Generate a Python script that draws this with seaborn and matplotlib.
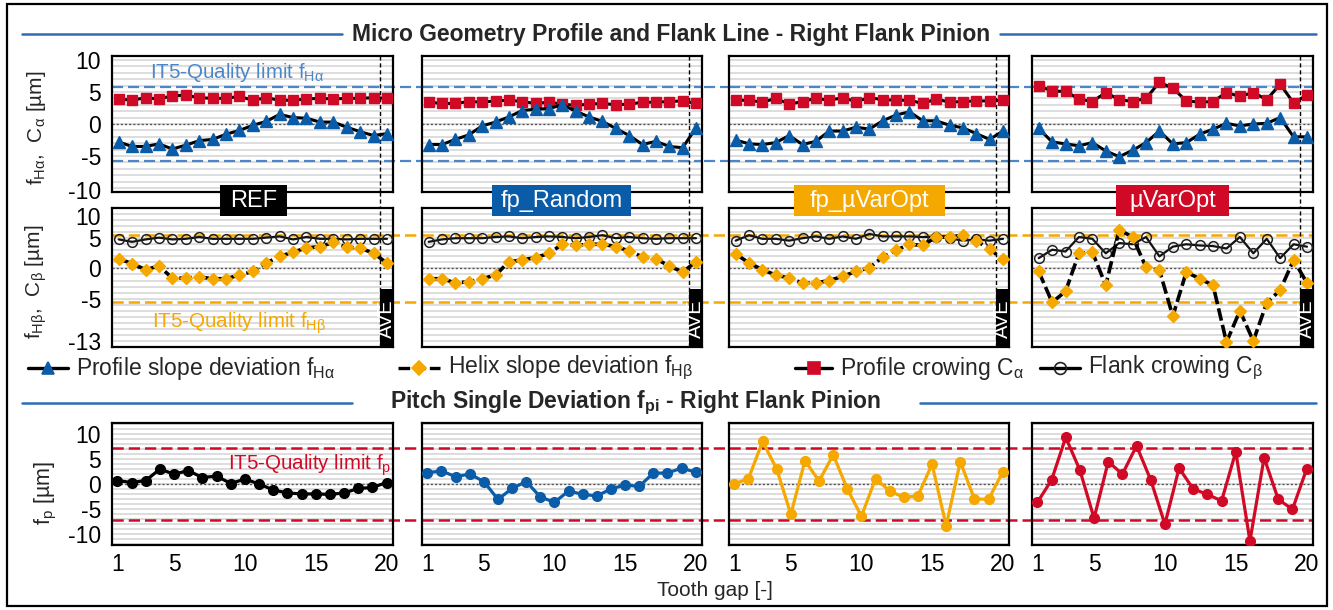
import numpy as np
import matplotlib
matplotlib.use("Agg")
import matplotlib.pyplot as plt
import seaborn as sns
from matplotlib.lines import Line2D
from matplotlib.patches import Rectangle
from matplotlib.transforms import blended_transform_factory, ScaledTranslation

sns.set_theme(style="white")
plt.rcParams["font.family"] = ["Liberation Sans", "DejaVu Sans"]
plt.rcParams["mathtext.fontset"] = "custom"
plt.rcParams["mathtext.rm"] = "Liberation Sans"
plt.rcParams["mathtext.it"] = "Liberation Sans:italic"
plt.rcParams["mathtext.bf"] = "Liberation Sans:bold"

# ---------------- data ----------------
variants = ["REF", "fp_Random", "fp_µVarOpt", "µVarOpt"]
teeth_ave = list(range(1, 22))      # teeth 1..20, position 21 = average (AVE)
teeth = list(range(1, 21))

# profile slope deviation fHα [µm]
fHa_ref = [-2.8, -3.5, -3.5, -3.1, -3.9, -3.3, -2.6, -2.4, -1.6, -1.0, -0.2, 0.4, 1.5, 1.0, 0.9, 0.3, 0.3, -0.5, -1.2, -1.8, -1.5]
fHa_random = [-3.2, -3.2, -2.4, -1.7, -0.3, 0.3, 1.1, 2.1, 2.3, 2.4, 3.0, 2.0, 1.1, 0.4, -0.7, -1.8, -3.2, -2.7, -3.5, -3.7, -0.6]
fHa_fpopt = [-2.5, -3.1, -3.2, -2.9, -1.8, -3.2, -2.7, -1.1, -1.1, -0.5, -0.8, 0.5, 1.4, 1.9, 0.5, 0.5, -0.2, -0.6, -1.5, -2.4, -1.1]
fHa_opt = [-0.7, -2.8, -3.1, -3.4, -2.9, -4.2, -5.1, -4.1, -2.9, -1.1, -3.1, -2.9, -1.6, -0.8, 0.1, -0.3, 0.0, 0.1, 1.0, -2.0, -2.0]

# profile crowning Cα [µm]
Ca_ref = [3.9, 3.7, 4.1, 3.9, 4.4, 4.5, 4.1, 4.0, 4.0, 4.3, 3.7, 4.1, 3.7, 3.7, 3.9, 4.0, 3.9, 4.0, 4.0, 4.1, 4.0]
Ca_random = [3.4, 3.2, 3.2, 3.5, 3.4, 3.6, 3.7, 3.5, 3.2, 3.4, 3.1, 2.9, 3.1, 3.2, 3.0, 3.1, 3.4, 3.4, 3.5, 3.6, 3.2]
Ca_fpopt = [3.7, 3.7, 3.4, 4.0, 3.1, 3.5, 4.0, 3.7, 4.1, 3.5, 4.1, 3.8, 3.7, 3.7, 3.2, 3.9, 3.4, 3.5, 3.6, 3.6, 3.7]
Ca_opt = [6.0, 5.1, 5.1, 3.9, 3.5, 4.9, 3.8, 3.5, 4.0, 6.5, 5.6, 3.6, 3.4, 3.5, 4.9, 4.3, 4.9, 3.8, 6.2, 3.3, 4.5]

# helix slope deviation fHβ [µm]
fHb_ref = [1.6, 0.8, -0.2, 0.4, -1.6, -1.6, -1.4, -1.7, -1.7, -1.1, -0.5, 0.9, 2.0, 2.7, 3.4, 3.6, 4.3, 3.5, 3.4, 2.5, 0.9]
fHb_random = [-1.7, -1.7, -2.4, -2.2, -1.7, -1.1, 1.1, 1.4, 1.8, 2.5, 4.0, 3.8, 4.0, 4.0, 3.6, 2.9, 1.9, 1.6, 0.4, -0.6, 1.1]
fHb_fpopt = [2.4, 0.9, -0.2, -1.1, -1.6, -2.4, -2.4, -2.0, -1.3, -0.5, 0.1, 1.9, 3.0, 4.0, 3.8, 5.2, 5.2, 5.5, 4.6, 3.2, 1.5]
fHb_opt = [-0.5, -5.6, -3.8, 2.5, 2.7, -2.8, 6.4, 5.2, 0.2, -0.3, -7.9, -0.6, -1.7, -2.8, -12.2, -7.0, -12.0, -5.7, -3.6, 1.4, -2.4]

# flank crowning Cβ [µm]
Cb_ref = [4.8, 4.4, 4.8, 5.1, 4.8, 4.9, 5.2, 4.9, 4.9, 4.9, 4.9, 5.1, 5.3, 4.8, 5.2, 4.9, 4.9, 4.8, 4.9, 4.9, 4.9]
Cb_random = [4.4, 4.8, 5.0, 5.0, 5.0, 5.2, 5.3, 5.0, 5.2, 5.3, 5.2, 5.0, 5.2, 5.5, 5.0, 5.2, 5.0, 4.9, 5.0, 5.0, 5.0]
Cb_fpopt = [4.6, 5.5, 4.9, 4.9, 4.6, 5.0, 5.3, 4.9, 5.3, 4.9, 5.7, 5.3, 5.3, 5.3, 5.2, 5.2, 5.0, 4.6, 4.8, 4.6, 4.9]
Cb_opt = [1.7, 3.1, 2.8, 5.2, 4.9, 2.5, 4.2, 4.0, 5.2, 2.0, 3.6, 4.0, 3.8, 3.7, 3.3, 5.2, 2.5, 4.9, 1.7, 4.0, 3.6]

# single pitch deviation fp [µm]
fp_ref = [0.7, 0.3, 0.7, 3.0, 2.0, 2.7, 1.3, 1.6, 0.1, 1.0, 0.0, -1.2, -1.8, -2.0, -2.0, -2.1, -1.8, -0.9, -0.7, 0.3]
fp_random = [2.3, 2.6, 1.5, 2.0, 0.5, -3.1, -0.9, 0.5, -2.6, -3.7, -1.4, -2.1, -2.4, -1.0, -0.2, -0.5, 2.2, 2.2, 3.2, 2.4]
fp_fpopt = [0.0, 1.1, 8.6, 3.0, -6.1, 4.7, 0.6, 5.9, -1.0, -6.5, 1.1, -1.4, -2.7, -2.4, 4.0, -8.4, 4.5, -3.0, -3.1, 2.4]
fp_opt = [-3.7, 0.8, 9.4, 2.8, -6.9, 4.5, 2.0, 7.7, 0.8, -8.1, 3.2, -1.0, -2.1, -3.4, 6.5, -11.5, 5.3, -3.1, -5.1, 3.0]

# IT5 quality limits [µm]
limit_fHa = 5.8
limit_fHb = 5.5
limit_fp = 7.3

# ---------------- style ----------------
BLUE = "#0B5CA8"
LBLUE = "#4A86C8"
RED = "#D00A26"
ORANGE = "#F5A800"
BLACK = "#000000"
variant_colors = [BLACK, BLUE, ORANGE, RED]
TICK_FS = 16.5

W, H = 1333, 610
fig = plt.figure(figsize=(W / 100, H / 100), dpi=100)


def fx(px):
    return px / W


def fy(py):
    return 1 - py / H


cols = [(112, 393), (422, 702), (729, 1009), (1032, 1313)]
rows = {"top": (56, 192), "mid": (208, 347), "bot": (423, 545)}


def make_ax(c, r):
    x0, x1 = cols[c]
    y0, y1 = rows[r]
    return fig.add_axes([fx(x0), fy(y1), (x1 - x0) / W, (y1 - y0) / H])


def style_ax(ax, ylim, yticks, xlim, first):
    ax.set_xlim(*xlim)
    ax.set_ylim(*ylim)
    ax.set_yticks(np.arange(np.ceil(ylim[0]), ylim[1] + 0.01, 1.0), minor=True)
    ax.set_yticks(yticks)
    ax.set_yticklabels([str(t) for t in yticks])
    ax.grid(True, which="both", axis="y", color="#dadada", lw=1.3)
    ax.grid(False, axis="x")
    ax.set_axisbelow(True)
    ax.axhline(0, color="#555555", lw=1.0, ls=(0, (1.5, 1.5)), zorder=1.5)
    for s in ax.spines.values():
        s.set_visible(True)
        s.set_color("black")
        s.set_linewidth(1.6)
    ax.tick_params(which="both", length=0, labelsize=TICK_FS, pad=8, colors="black")
    if not first:
        ax.tick_params(labelleft=False)
    ax.set_xlabel("")
    ax.set_ylabel("")
    ax.set_facecolor("white")


def nudge_ylabels(ax, shifts):
    # shift selected y tick labels vertically (in pixels, positive = down)
    for tick in ax.yaxis.get_major_ticks():
        val = tick.get_loc()
        for target, dpx in shifts.items():
            if abs(val - target) < 1e-6:
                lab = tick.label1
                lab.set_transform(lab.get_transform() +
                                  ScaledTranslation(0, -dpx / 100, fig.dpi_scale_trans))


def line(ax, x, y, lc, marker, mfc, mec, ms, lw, ls="-", mew=1.0):
    sns.lineplot(x=x, y=y, ax=ax, color=lc, marker=marker, markersize=ms,
                 markerfacecolor=mfc, markeredgecolor=mec, markeredgewidth=mew,
                 lw=lw, linestyle=ls, errorbar=None, legend=False, zorder=3)


fHa_all = [fHa_ref, fHa_random, fHa_fpopt, fHa_opt]
Ca_all = [Ca_ref, Ca_random, Ca_fpopt, Ca_opt]
fHb_all = [fHb_ref, fHb_random, fHb_fpopt, fHb_opt]
Cb_all = [Cb_ref, Cb_random, Cb_fpopt, Cb_opt]
fp_all = [fp_ref, fp_random, fp_fpopt, fp_opt]

xlim_ave = (0.5, 21.45)
xlim_fp = (0.62, 20.45)
ave_split = 20.45

top_axes, mid_axes, bot_axes = [], [], []
for i in range(4):
    # profile row
    ax = make_ax(i, "top")
    line(ax, teeth_ave, Ca_all[i], BLACK, "s", RED, RED, 7.5, 2.2)
    line(ax, teeth_ave, fHa_all[i], BLACK, "^", BLUE, BLUE, 8.5, 2.2)
    style_ax(ax, (-10.6, 10.6), [-10, -5, 0, 5, 10], xlim_ave, i == 0)
    ax.axhline(limit_fHa, color=LBLUE, lw=1.6, ls=(0, (5, 2.2)), zorder=1.8)
    ax.axhline(-limit_fHa, color=LBLUE, lw=1.6, ls=(0, (5, 2.2)), zorder=1.8)
    ax.axvline(ave_split, color="black", lw=1.0, ls=(0, (3, 2)), zorder=2)
    ax.set_xticks([])
    top_axes.append(ax)

    # flank line row
    ax = make_ax(i, "mid")
    line(ax, teeth_ave, Cb_all[i], "#111111", "o", "none", "#222222", 7, 1.6, mew=1.1)
    line(ax, teeth_ave, fHb_all[i], BLACK, "D", ORANGE, ORANGE, 6.5, 2.6, ls=(0, (3.5, 1.2)))
    style_ax(ax, (-13, 10), [-13, -5, 0, 5, 10], xlim_ave, i == 0)
    ax.axhline(limit_fHb, color=ORANGE, lw=1.8, ls=(0, (4.5, 2)), zorder=1.8)
    ax.axhline(-limit_fHb, color=ORANGE, lw=1.8, ls=(0, (4.5, 2)), zorder=1.8)
    ax.axvline(ave_split, color="black", lw=1.0, ls=(0, (3, 2)), zorder=2)
    ax.add_patch(Rectangle((ave_split, -13), xlim_ave[1] - ave_split, 9.6,
                           facecolor="black", edgecolor="none", zorder=4))
    ax.text((ave_split + xlim_ave[1]) / 2, -8.3, "AVE", rotation=90, color="white",
            ha="center", va="center", fontsize=14.5, zorder=5)
    ax.set_xticks([])
    mid_axes.append(ax)

    # pitch row
    ax = make_ax(i, "bot")
    line(ax, teeth, fp_all[i], variant_colors[i], "o", variant_colors[i],
         variant_colors[i], 7, 2.3)
    style_ax(ax, (-12.3, 12.3), [-10, -5, 0, 5, 10], xlim_fp, i == 0)
    ax.axhline(limit_fp, color=RED, lw=1.8, ls=(0, (4.5, 2)), zorder=1.8)
    ax.axhline(-limit_fp, color=RED, lw=1.8, ls=(0, (4.5, 2)), zorder=1.8)
    ax.set_xticks([1, 5, 10, 15, 20])
    ax.set_xticklabels(["1", "5", "10", "15", "20"])
    ax.tick_params(axis="x", pad=6)
    bot_axes.append(ax)

# keep the edge labels of the flank line axis clear of their neighbours
nudge_ylabels(top_axes[0], {-10: 2})
nudge_ylabels(mid_axes[0], {10: 8, -13: -6})

# limit lines continuing through the gaps between panels
for ax0, lim, col, dash in [(top_axes[0], limit_fHa, LBLUE, (5, 2.2)),
                            (mid_axes[0], limit_fHb, ORANGE, (4.5, 2)),
                            (bot_axes[0], limit_fp, RED, (4.5, 2))]:
    tr = blended_transform_factory(fig.transFigure, ax0.transData)
    lw = 1.6 if col == LBLUE else 1.8
    for s in (1, -1):
        fig.add_artist(Line2D([fx(112), fx(1313)], [s * lim, s * lim], transform=tr,
                              color=col, lw=lw, ls=(0, dash), zorder=-1))

# dashed separator before the average column, through the gap of the rows
for c in range(4):
    tr = blended_transform_factory(top_axes[c].transData, fig.transFigure)
    fig.add_artist(Line2D([ave_split, ave_split], [fy(192), fy(208)], transform=tr,
                          color="black", lw=1.0, ls=(0, (3, 2)), zorder=-1))

# variant labels between profile and flank line rows
box_x = [(220, 287), (492, 631), (794, 945), (1116, 1229)]
for (x0, x1), name, col in zip(box_x, variants, variant_colors):
    fig.add_artist(Rectangle((fx(x0), fy(216)), (x1 - x0) / W, 31 / H,
                             transform=fig.transFigure, facecolor=col,
                             edgecolor="none", zorder=6))
    fig.text(fx((x0 + x1) / 2), fy(201), name, color="white", ha="center",
             va="center", fontsize=17, zorder=7)

# quality limit annotations
fig.text(fx(150), fy(73), "IT5-Quality limit f$_{\\mathrm{Hα}}$", color=LBLUE,
         fontsize=14.8, ha="left", va="center", zorder=8)
fig.text(fx(152), fy(323), "IT5-Quality limit f$_{\\mathrm{Hβ}}$", color=ORANGE,
         fontsize=14.8, ha="left", va="center", zorder=8)
fig.text(fx(228), fy(465), "IT5-Quality limit f$_{\\mathrm{p}}$", color=RED,
         fontsize=14.8, ha="left", va="center", zorder=8)

# axis titles
fig.text(fx(36), fy(128), "f$_{\\mathrm{Hα}}$,  C$_{\\mathrm{α}}$ [µm]", rotation=90,
         ha="center", va="center", fontsize=15)
fig.text(fx(36), fy(282), "f$_{\\mathrm{Hβ}}$,  C$_{\\mathrm{β}}$ [µm]", rotation=90,
         ha="center", va="center", fontsize=15)
fig.text(fx(46), fy(493), "f$_{\\mathrm{p}}$ [µm]", rotation=90,
         ha="center", va="center", fontsize=15.5)
fig.text(fx(715), fy(590), "Tooth gap [-]", ha="center", va="center", fontsize=15)

# section headings with rules
TITLE_BLUE = "#2E6DB4"
fig.text(fx(671), fy(34), "Micro Geometry Profile and Flank Line - Right Flank Pinion",
         ha="center", va="center", fontsize=16.5, fontweight="bold")
fig.text(fx(635), fy(403), "Pitch Single Deviation f$_{\\mathbf{pi}}$ - Right Flank Pinion",
         ha="center", va="center", fontsize=16.5, fontweight="bold")
for (a, b, y) in [(22, 342, 34), (1000, 1316, 34), (22, 352, 403), (920, 1316, 403)]:
    fig.add_artist(Line2D([fx(a), fx(b)], [fy(y), fy(y)], color=TITLE_BLUE, lw=1.8))

# legend
leg_y = fy(368)
legend_items = [
    (28, 68, "^", BLUE, BLUE, 9, "-", "Profile slope deviation f$_{\\mathrm{Hα}}$"),
    (398, 440, "D", ORANGE, ORANGE, 7.5, (0, (3.5, 1.2)), "Helix slope deviation f$_{\\mathrm{Hβ}}$"),
    (795, 832, "s", RED, RED, 8.5, "-", "Profile crowing C$_{\\mathrm{α}}$"),
    (1040, 1080, "o", "none", "#222222", 8.5, "-", "Flank crowing C$_{\\mathrm{β}}$"),
]
for x0, x1, mk, mfc, mec, ms, ls, lab in legend_items:
    fig.add_artist(Line2D([fx(x0), fx(x1)], [leg_y, leg_y], color="black", lw=2.4, ls=ls))
    fig.add_artist(Line2D([fx((x0 + x1) / 2)], [leg_y], marker=mk, ms=ms, mfc=mfc,
                          mec=mec, mew=1.2, ls="none"))
    fig.text(fx(x1 + 8), leg_y, lab, ha="left", va="center", fontsize=16.5)

# outer frame
fig.add_artist(Rectangle((fx(7), fy(606)), (1327 - 7) / W, (606 - 4) / H,
                         transform=fig.transFigure, fill=False, edgecolor="black",
                         lw=1.6, zorder=10))

fig.savefig("out.png", dpi=100)
